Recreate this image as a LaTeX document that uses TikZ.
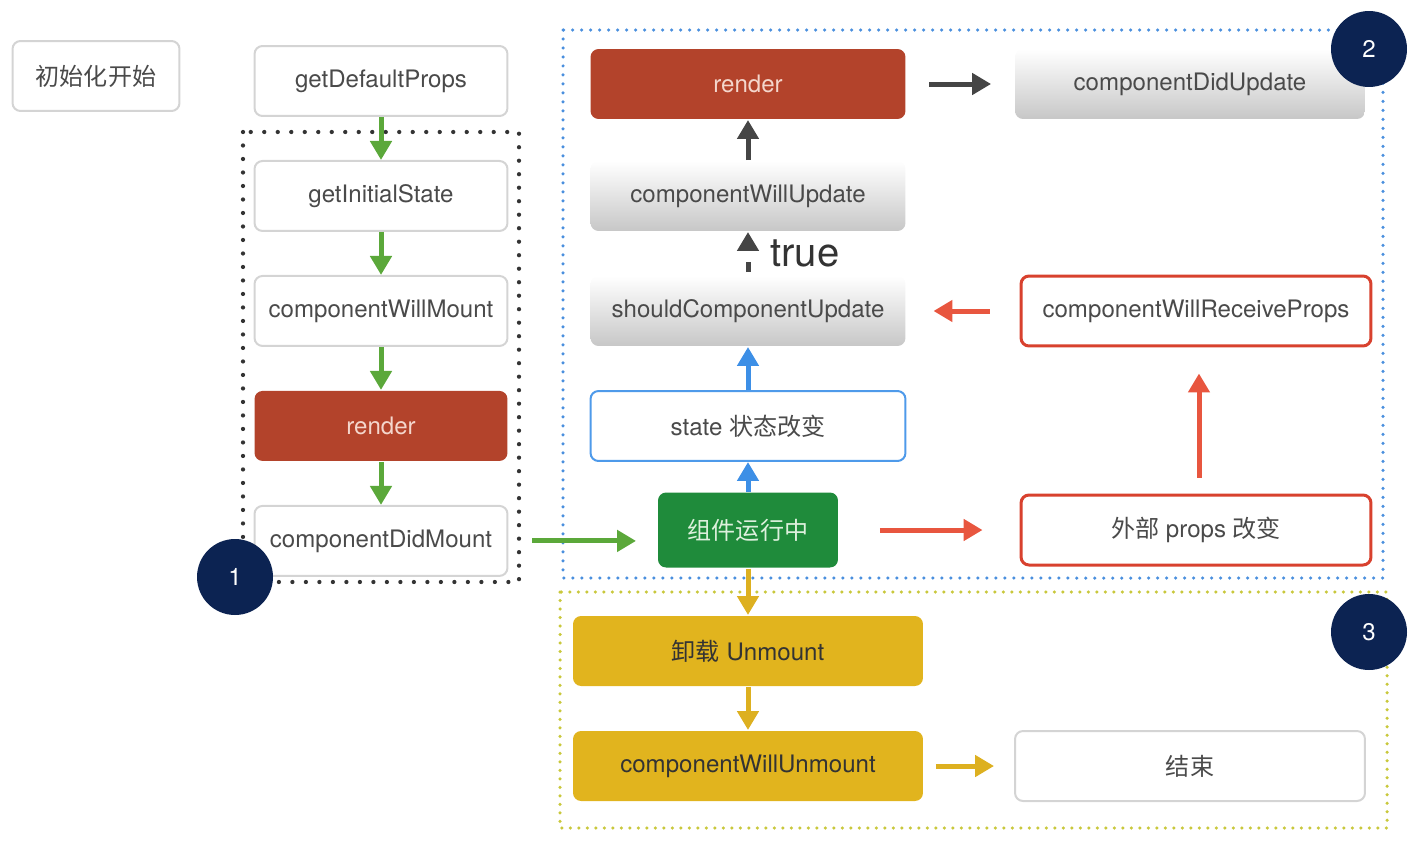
\documentclass[tikz,border=0pt]{standalone}
\usepackage{fontspec}
\setmainfont{TeX Gyre Heros}
\newfontfamily\cjk{Noto Sans CJK SC}
\usepackage{tikz}
\usetikzlibrary{arrows.meta}
\usetikzlibrary{positioning}
\tikzset{>={Triangle[length=0.38cm,width=0.42cm]}}

\definecolor{renderred}{HTML}{B3432B}
\definecolor{rendertxt}{HTML}{F4D6CC}
\definecolor{rungreen}{HTML}{1F8B3B}
\definecolor{runtxt}{HTML}{DDF0DD}
\definecolor{unmountyel}{HTML}{E1B41E}
\definecolor{navy}{HTML}{0C2352}
\definecolor{boxgray}{HTML}{D4D4D4}
\definecolor{txtgray}{HTML}{4A4A4A}
\definecolor{garrowc}{HTML}{5BA83A}
\definecolor{barrowc}{HTML}{3D8FE6}
\definecolor{rarrowc}{HTML}{E8563F}
\definecolor{darrowc}{HTML}{454545}
\definecolor{yarrowc}{HTML}{DDB020}
\definecolor{bluedot}{HTML}{4A8FDE}
\definecolor{yellowdot}{HTML}{C9C83C}
\definecolor{blackdot}{HTML}{333333}
\definecolor{redborder}{HTML}{D8412E}
\definecolor{blueborder}{HTML}{4E9AEA}

\begin{document}
\begin{tikzpicture}[x=0.02cm, y=-0.02cm, node distance=0.86cm,
        font=\fontsize{13.7}{16}\selectfont,
        box/.style={draw=boxgray, line width=0.04cm, rounded corners=0.16cm,
            minimum width=5.06cm, minimum height=1.4cm, text=txtgray, fill=white},
        mid/.style={box, minimum width=6.3cm},
        wide/.style={box, minimum width=7cm},
        grad/.style={draw=none, top color=white, bottom color=black!22},
        redfill/.style={draw=none, fill=renderred, text=rendertxt},
        yelfill/.style={wide, draw=none, fill=unmountyel, text=black!80},
        redline/.style={draw=redborder, line width=0.06cm},
        num/.style={circle, fill=navy, minimum size=1.52cm, text=white},
        blackdots/.style={blackdot, line width=0.085cm, line cap=round, dash pattern=on 0pt off 0.27cm},
        bluedots/.style={bluedot, line width=0.07cm, line cap=round, dash pattern=on 0pt off 0.18cm},
        yeldots/.style={yellowdot, line width=0.07cm, line cap=round, dash pattern=on 0pt off 0.17cm},
        arr/.style={->, line width=0.1cm},
        garrow/.style={arr, garrowc},
        barrow/.style={arr, barrowc},
        rarrow/.style={arr, rarrowc},
        darrow/.style={arr, darrowc},
        yarrow/.style={arr, yarrowc}]
    \useasboundingbox (0,0) rectangle (1416,852);

    \draw [blackdots] (243,132) rectangle (519,582);
    \draw [bluedots] (563,30) rectangle (1383,578);
    \draw [yeldots] (560,592) rectangle (1387,828);

    \node [box, minimum width=3.34cm] (start) at (96,76) {\cjk 初始化开始};

    \node [box] (defprops) at (381,81) {getDefaultProps};
    \node [box, below=of defprops] (initstate) {getInitialState};
    \node [box, below=of initstate] (willmount) {componentWillMount};
    \node [box, redfill, below=of willmount] (lrender) {render};
    \node [box, below=of lrender] (didmount) {componentDidMount};

    \node [mid, redfill] (rrender) at (748,84) {render};
    \node [wide, grad] (didupdate) at (1190,84) {componentDidUpdate};
    \node [mid, grad] (willupdate) at (748,196) {componentWillUpdate};
    \node [mid, grad] (shouldupdate) at (748,311) {shouldComponentUpdate};
    \node [wide, redline] (receiveprops) at (1196,311) {componentWillReceiveProps};
    \node [mid, draw=blueborder] (statechg) at (748,426) {state {\cjk 状态改变}};
    \node [box, draw=none, fill=rungreen, text=runtxt, minimum width=3.6cm, minimum height=1.5cm]
        (running) at (748,530) {\cjk 组件运行中};
    \node [wide, redline] (propschg) at (1196,530) {{\cjk 外部} props {\cjk 改变}};

    \node [yelfill] (unmount) at (748,651) {{\cjk 卸载} Unmount};
    \node [yelfill] (willunmount) at (748,766) {componentWillUnmount};
    \node [wide] (finish) at (1190,766) {\cjk 结束};

    \draw [garrow] (defprops) -- (initstate);
    \draw [garrow] (initstate) -- (willmount);
    \draw [garrow] (willmount) -- (lrender);
    \draw [garrow] (lrender) -- (didmount);
    \draw [garrow, shorten <=0.48cm, shorten >=0.42cm] (didmount.east) -- (didmount.east -| running.west);

    \draw [barrow] (running) -- (statechg);
    \draw [barrow] (statechg) -- (shouldupdate);
    \draw [darrow, dash pattern=on 0.2cm off 0.3cm, shorten <=0.06cm] (shouldupdate) -- (willupdate)
        node [midway, right=0.28cm, font=\fontsize{22.8}{26}\selectfont, text=black!80] (truelbl) {true};
    \draw [darrow] (willupdate) -- (rrender);
    \draw [darrow, shorten <=0.46cm, shorten >=0.46cm] (rrender) -- (didupdate);

    \draw [rarrow, shorten <=0.82cm, shorten >=0.74cm] (running.east) -- (running.east -| propschg.west);
    \draw [rarrow, shorten <=0.32cm, shorten >=0.52cm] (propschg.north -| 1199,0) -- (receiveprops.south -| 1199,0);
    \draw [rarrow, shorten <=0.6cm, shorten >=0.54cm] (receiveprops) -- (shouldupdate);

    \draw [yarrow] (running) -- (unmount);
    \draw [yarrow] (unmount) -- (willunmount);
    \draw [yarrow, shorten <=0.24cm, shorten >=0.4cm] (willunmount) -- (finish);

    \node [num] (one) at (235,577) {1};
    \node [num] (two) at (1369,49) {2};
    \node [num] (three) at (1369,632) {3};
\end{tikzpicture}
\end{document}
